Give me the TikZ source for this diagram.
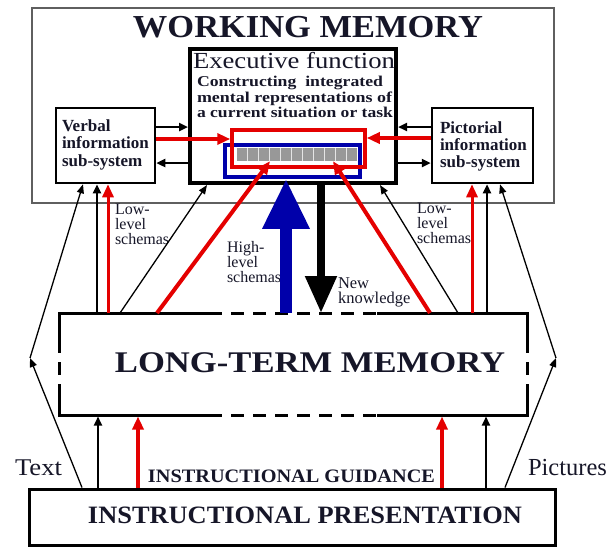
\documentclass[tikz,border=0pt]{standalone}
\usepackage{fontspec}
\setmainfont{Liberation Serif}
\usetikzlibrary{arrows.meta,calc}
\definecolor{redc}{RGB}{228,0,0}
\definecolor{bluec}{RGB}{0,0,170}
\definecolor{ink}{RGB}{22,22,40}
\definecolor{framec}{RGB}{95,95,95}
\definecolor{barc}{RGB}{152,152,152}
\newcommand\fz[1]{\fontsize{#1}{#1}\selectfont}
\newcommand\sw[2]{\resizebox{#1}{\height}{#2}}
\begin{document}
\begin{tikzpicture}[x=1pt,y=-1pt,
  lbl/.style={inner sep=0pt,outer sep=0pt,anchor=base west,text=ink},
  clbl/.style={inner sep=0pt,outer sep=0pt,anchor=base,text=ink},
  boxn/.style={draw,inner sep=0pt,line width=2.5pt},
  blk/.style={line width=2.5pt,-{Triangle[length=9pt,width=8pt]}},
  thinarr/.style={line width=1.3pt,-{Triangle[length=9pt,width=7pt]}},
  redarr/.style={draw=redc,line width=3.5pt,-{Triangle[length=13pt,width=11pt]}},
  ltmline/.style={line width=3pt},
  ltmdash/.style={line width=3pt,dash pattern=on 13pt off 9pt},
]
\useasboundingbox (0,0) rectangle (607,547);

% ---------- working memory ----------
\node[draw=framec,line width=1.5pt,inner sep=0pt,minimum width=522pt,minimum height=195pt] (wm) at (293,105.5) {};
\node[clbl] (wmt) at (308,37) {\fz{32}\bfseries\sw{350pt}{WORKING MEMORY}};

\node[boxn,line width=4pt,minimum width=206pt,minimum height=134pt] (exec) at (293,116) {};
\node[boxn,minimum width=99pt,minimum height=75pt] (verbal) at (105.5,145.5) {};
\node[boxn,minimum width=101pt,minimum height=75pt] (pict) at (482.5,145.5) {};

\node[lbl] (eft) at (193,68) {\fz{23}\sw{202pt}{Executive function}};
\node[lbl] (ex1) at (197,86) {\fz{15}\bfseries\sw{186pt}{Constructing\ \ integrated}};
\node[lbl] (ex2) at (197,102) {\fz{15}\bfseries\sw{195pt}{mental representations of}};
\node[lbl] (ex3) at (197,117) {\fz{15}\bfseries\sw{196pt}{a current situation or task}};

\node[lbl] (v1) at (62,131) {\fz{17}\bfseries Verbal};
\node[lbl] (v2) at (62,148) {\fz{17}\bfseries information};
\node[lbl] (v3) at (62,166) {\fz{17}\bfseries sub-system};
\node[lbl] (p1) at (440,133) {\fz{17}\bfseries Pictorial};
\node[lbl] (p2) at (440,150) {\fz{17}\bfseries information};
\node[lbl] (p3) at (440,167) {\fz{17}\bfseries sub-system};

% integration area inside the executive function
\node[fill=barc,inner sep=0pt,minimum width=120pt,minimum height=13pt] (bar) at (297,154.5) {};
\foreach \i in {1,...,10}
  \draw[white!75!barc,line width=0.8pt] ($(bar.north west)!\i/11!(bar.north east)$) -- ($(bar.south west)!\i/11!(bar.south east)$);
\node[draw=bluec,line width=3.5pt,inner sep=0pt,minimum width=135pt,minimum height=32pt] (bluer) at (292.5,161) {};
\node[draw=redc,line width=3.5pt,inner sep=0pt,minimum width=133pt,minimum height=37pt] (redr) at (298.5,148.5) {};

\draw[blk] (verbal.east |- 0,127) -- (exec.west |- 0,127);
\draw[blk] (exec.west |- 0,163) -- (verbal.east |- 0,163);
\draw[blk] (pict.west |- 0,127) -- (exec.east |- 0,127);
\draw[blk] (exec.east |- 0,163) -- (pict.west |- 0,163);
\draw[redarr] (verbal.east |- 0,139) -- (redr.west |- 0,139);
\draw[redarr] (pict.west |- 0,138) -- (redr.east |- 0,138);

% ---------- long-term memory ----------
\node[inner sep=0pt,outer sep=0pt,minimum width=468pt,minimum height=102pt] (ltm) at (293,364) {};
\draw[ltmline] (ltm.north west |- 0,340) -- (ltm.north west) -- (ltm.north west -| 209,0);
\draw[ltmdash] (ltm.north west -| 209,0) -- (ltm.north east -| 377,0);
\draw[ltmline] (ltm.north east -| 377,0) -- (ltm.north east) -- (ltm.north east |- 0,340);
\draw[ltmline] (ltm.south west |- 0,392) -- (ltm.south west) -- (ltm.south west -| 209,0);
\draw[ltmdash] (ltm.south west -| 209,0) -- (ltm.south east -| 377,0);
\draw[ltmline] (ltm.south east -| 377,0) -- (ltm.south east) -- (ltm.south east |- 0,392);
\draw[ltmdash] (ltm.north west |- 0,340) -- (ltm.south west |- 0,392);
\draw[ltmdash] (ltm.north east |- 0,340) -- (ltm.south east |- 0,392);
\node[clbl] (ltmt) at (310,372) {\fz{30}\bfseries\sw{390pt}{LONG-TERM MEMORY}};

% ---------- instructional presentation ----------
\node[boxn,line width=3pt,minimum width=526pt,minimum height=56pt] (ip) at (292,517) {};
\node[clbl] (ipt) at (305,523) {\fz{25}\bfseries\sw{434pt}{INSTRUCTIONAL PRESENTATION}};
\node[clbl] (igt) at (291.5,482) {\fz{19}\bfseries\sw{287pt}{INSTRUCTIONAL GUIDANCE}};
\node[lbl] (txt) at (15,475) {\fz{24}\sw{47pt}{Text}};
\node[lbl] (pic) at (528,475) {\fz{24.5}Pictures};

% ---------- schema labels ----------
\node[lbl] (l1) at (115,214) {\fz{16}Low-};
\node[lbl] (l2) at (115,229) {\fz{16}level};
\node[lbl] (l3) at (115,244) {\fz{16}schemas};
\node[lbl] (r1) at (417,213) {\fz{16}Low-};
\node[lbl] (r2) at (417,228) {\fz{16}level};
\node[lbl] (r3) at (417,243) {\fz{16}schemas};
\node[lbl] (h1) at (227,252) {\fz{16}High-};
\node[lbl] (h2) at (227,267) {\fz{16}level};
\node[lbl] (h3) at (227,282) {\fz{16}schemas};
\node[lbl] (n1) at (338,288) {\fz{16.5}New};
\node[lbl] (n2) at (338,303) {\fz{16.5}knowledge};

% ---------- long-term memory <-> working memory ----------
\draw[blk] (ltm.north -| 97,0) -- (verbal.south -| 97,0);
\draw[redarr,line width=3pt] (ltm.north -| 108,0) -- (verbal.south -| 108,0);
\draw[redarr,line width=3pt] (ltm.north -| 472,0) -- (pict.south -| 472,0);
\draw[blk] (ltm.north -| 487,0) -- (pict.south -| 487,0);
\draw[thinarr] (ltm.north -| 120,0) -- (exec.south -| 207,0);
\draw[thinarr] (ltm.north -| 458,0) -- (exec.south -| 380,0);
\draw[redarr,line width=4pt] (ltm.north -| 157,0) -- (bar.south -| 270,0);
\draw[redarr,line width=4pt] (ltm.north -| 430,0) -- (bar.south -| 333,0);
\draw[bluec,line width=12pt,-{Triangle[length=50pt,width=44pt]}] (ltm.north -| 286,0) -- (bluer.south -| 286,0);
\draw[line width=8pt,-{Triangle[length=37pt,width=30pt]}] (exec.south -| 321,0) -- (ltm.north -| 321,0);

% ---------- presentation -> long-term memory ----------
\draw[blk,line width=2pt,shorten >=1.5pt] (ip.north -| 98,0) -- (ltm.south -| 98,0);
\draw[redarr,line width=4pt,shorten >=1.5pt] (ip.north -| 138,0) -- (ltm.south -| 138,0);
\draw[redarr,line width=4pt,shorten >=1.5pt] (ip.north -| 442,0) -- (ltm.south -| 442,0);
\draw[blk,line width=2pt,shorten >=1.5pt] (ip.north -| 486,0) -- (ltm.south -| 486,0);

% ---------- text and pictures routes ----------
\coordinate (tl) at (30,358);
\coordinate (tr) at (556,358);
\draw[thinarr] (ip.north -| 82,0) -- (tl);
\draw[thinarr] (tl) -- (verbal.south -| 83,0);
\draw[thinarr] (ip.north -| 505,0) -- (tr);
\draw[thinarr] (tr) -- (pict.south -| 500,0);
\end{tikzpicture}
\end{document}
